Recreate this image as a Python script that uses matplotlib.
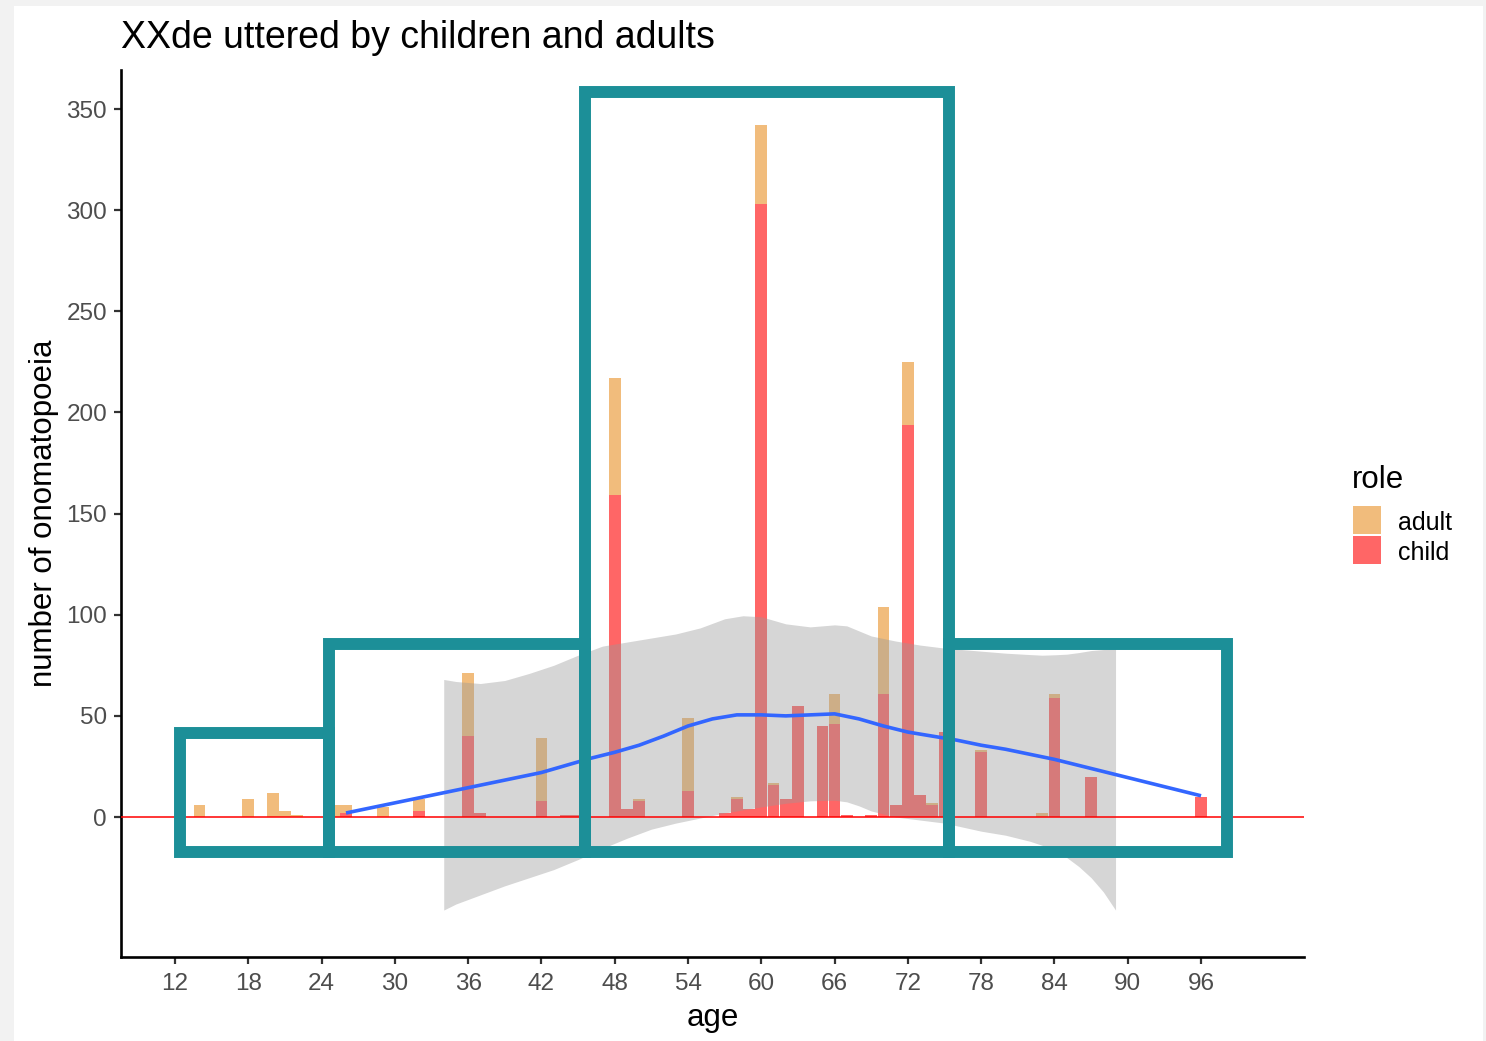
import matplotlib
matplotlib.use("Agg")
import matplotlib.pyplot as plt
from matplotlib.patches import Rectangle
import numpy as np

plt.rcParams['font.family'] = ['Liberation Sans', 'DejaVu Sans']

# ---------------- data ----------------
ages = [14, 18, 20, 21, 22, 25, 26, 29, 32, 36, 37, 42, 44, 45, 48, 49, 50, 54, 57, 58,
        59, 60, 61, 62, 63, 65, 66, 67, 69, 70, 71, 72, 73, 74, 75, 78, 83, 84, 87, 96]
child = [0, 0, 0, 0, 0, 0, 2, 0, 3, 40, 2, 8, 1, 1, 159, 4, 8, 13, 2, 9,
         4, 303, 16, 9, 55, 45, 46, 1, 1, 61, 6, 194, 11, 6, 42, 32, 0, 59, 20, 10]
adult = [6, 9, 12, 3, 1, 6, 4, 5, 6, 31, 0, 31, 0, 0, 58, 0, 1, 36, 0, 1,
         0, 39, 1, 0, 0, 0, 15, 0, 0, 43, 0, 31, 0, 1, 0, 1, 2, 2, 0, 0]

smooth_age = [26, 28, 30, 32, 34, 36, 38, 40, 42, 44, 46, 48, 50, 52, 54, 56, 58, 60,
              62, 64, 66, 68, 70, 72, 74, 76, 78, 80, 82, 84, 86, 88, 90, 92, 94, 96]
smooth_val = [2, 4.5, 7, 9.5, 12, 14.5, 17, 19.5, 22, 25.5, 29, 32, 35.5, 40, 45, 48.5, 50.5, 50.5,
              50, 50.5, 51, 48.5, 45, 42, 40, 38, 35.5, 33.5, 31, 28.5, 25.5, 22.5, 19.5, 16.5, 13.5, 10.5]

ribbon_age = [34, 35, 37, 39, 41, 43, 45, 47, 49, 51, 53, 55, 57, 58.5, 60, 62, 64, 66, 67, 68,
              69, 71, 73, 75, 78, 80, 82, 83, 84, 85, 86, 87, 88, 89]
ribbon_hi = [68, 67, 66, 67.5, 71, 75, 80, 84.5, 86.5, 88.5, 90.5, 93.5, 98, 99.5, 99, 95.5, 94, 95, 94.5, 92,
             89.5, 87, 85, 83.5, 82, 81, 80.3, 80, 80.2, 80.5, 81.3, 82.3, 82.8, 83]
ribbon_lo = [-46, -43, -38.5, -34, -30, -26, -21, -15.5, -10.5, -6, -3, -0.5, 2, 3.5, 5, 6.8, 8, 8.3, 7.5, 5.5,
             3, 0, -1.5, -3, -7, -9, -12, -14, -16.5, -20, -24.5, -30, -37, -46]

rect_x = [12.4, 24.6, 45.6, 75.4]
rect_x2 = [24.6, 45.6, 75.4, 98.1]
rect_top = [41.5, 85.5, 358.5, 85.5]
rect_bottom = -17.5

x_ticks = [12, 18, 24, 30, 36, 42, 48, 54, 60, 66, 72, 78, 84, 90, 96]
y_ticks = [0, 50, 100, 150, 200, 250, 300, 350]

roles = ['adult', 'child']
role_colors = {'adult': '#F1BC7C', 'child': '#FF6666'}
teal = '#1C8F98'

# ---------------- figure ----------------
W, H = 1486, 1041
fig = plt.figure(figsize=(W / 100, H / 100), dpi=100, facecolor='#F2F2F2')
fig.add_artist(Rectangle((14 / W, 0), (1483 - 14) / W, 1 - 6 / H, transform=fig.transFigure,
                         facecolor='white', edgecolor='none', zorder=-10))

ax = fig.add_axes([121 / W, 1 - 957 / H, (1304 - 121) / W, (957 - 70) / H])
ax.set_facecolor('white')
ax.set_xlim(7.58, 104.43)
ax.set_ylim(-69.2, 369.3)

ax.bar(ages, child, width=0.96, color=role_colors['child'], zorder=1, linewidth=0)
ax.bar(ages, adult, width=0.96, bottom=child, color=role_colors['adult'], zorder=1, linewidth=0)

ax.fill_between(ribbon_age, ribbon_lo, ribbon_hi, color='#999999', alpha=0.4, linewidth=0, zorder=2)
ax.plot(smooth_age, smooth_val, color='#3366FF', linewidth=2.6, zorder=3, solid_capstyle='butt')
ax.axhline(0, color='red', linewidth=1.1, zorder=4)

for x0, x1, top in zip(rect_x, rect_x2, rect_top):
    ax.add_patch(Rectangle((x0, rect_bottom), x1 - x0, top - rect_bottom, facecolor='none',
                           edgecolor=teal, linewidth=8.6, zorder=5, joinstyle='miter'))

ax.set_xticks(x_ticks)
ax.set_yticks(y_ticks)
ax.tick_params(axis='both', length=5, width=1.6, color='#333333', labelcolor='#4D4D4D',
               labelsize=17.5)
ax.tick_params(axis='x', pad=6.5)
ax.tick_params(axis='y', pad=5)
for s in ['top', 'right']:
    ax.spines[s].set_visible(False)
for s in ['left', 'bottom']:
    ax.spines[s].set_linewidth(1.9)
    ax.spines[s].set_color('black')

fig.text(712.5 / W, 1 - 1018 / H, 'age', ha='center', va='center', fontsize=22.5)
fig.text(44 / W, 1 - 513.5 / H, 'number of onomatopoeia', ha='center', va='center',
         rotation=90, fontsize=22.5)
fig.text(121 / W, 1 - 38.5 / H, 'XXde uttered by children and adults', ha='left', va='center',
         fontsize=27)

# legend
fig.text(1352 / W, 1 - 480 / H, 'role', ha='left', va='center', fontsize=22.5)
for i, r in enumerate(roles):
    top = 506 + i * 30
    fig.add_artist(Rectangle((1353 / W, 1 - (top + 28) / H), 28 / W, 28 / H,
                             transform=fig.transFigure, facecolor=role_colors[r], edgecolor='none'))
    fig.text(1398 / W, 1 - (top + 16.5) / H, r, ha='left', va='center', fontsize=18)

fig.savefig('out.png', dpi=100, facecolor=fig.get_facecolor())
